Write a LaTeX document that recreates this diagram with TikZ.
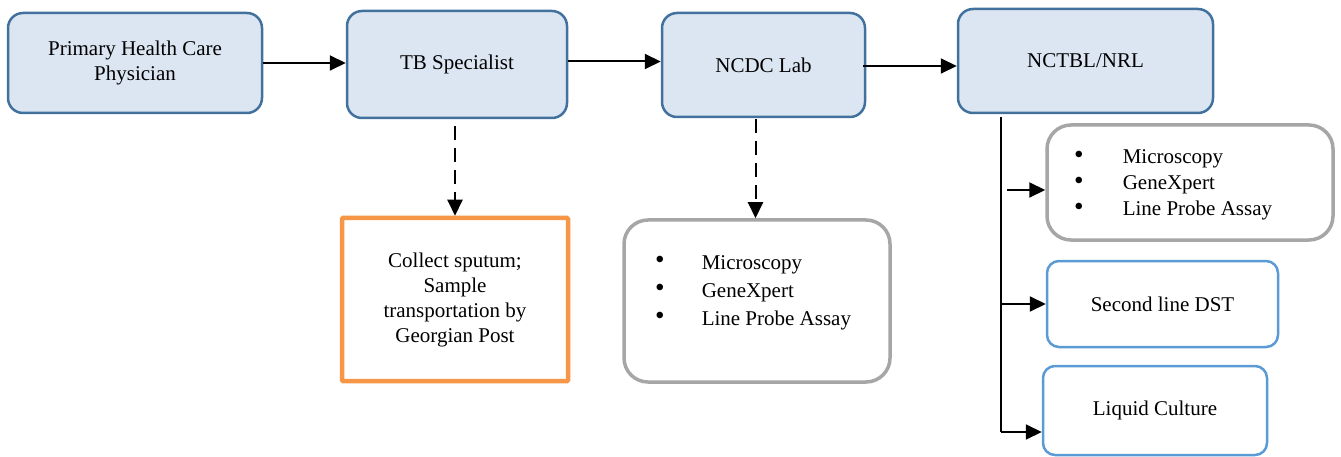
\documentclass[tikz,border=0pt]{standalone}
\usepackage{fontspec}
\setmainfont{Liberation Serif}
\newfontfamily\tnrfont{Liberation Serif}
\usetikzlibrary{arrows.meta,calc}
\definecolor{mainfill}{HTML}{DCE6F2}
\definecolor{mainline}{HTML}{41719C}
\definecolor{orangeline}{HTML}{F79646}
\definecolor{grayline}{HTML}{A6A6A6}
\definecolor{blueline}{HTML}{5B9BD5}
\newcommand{\bigbul}{\raisebox{0.1ex}{\scalebox{1.3}{\textbullet}}}
\begin{document}
\begin{tikzpicture}[x=1pt,y=-1pt,
  font=\tnrfont\fontsize{21}{25}\selectfont,
  mainbox/.style={draw=mainline, fill=mainfill, line width=2.5pt, rounded corners=15pt, align=center, inner sep=0pt},
  orangebox/.style={draw=orangeline, line width=4.5pt, rounded corners=1pt, align=center, inner sep=0pt},
  graybox/.style={draw=grayline, line width=3.5pt, rounded corners=24pt, inner sep=0pt},
  bluebox/.style={draw=blueline, line width=2.5pt, rounded corners=12pt, inner sep=0pt},
  listtext/.style={anchor=west, inner sep=0pt},
  arr/.style={line width=2pt, -{Triangle[length=16pt,width=15pt]}},
  dasharr/.style={arr, dash pattern=on 14pt off 8pt}]
\useasboundingbox (0,0) rectangle (1341,457);
\node[mainbox, minimum width=254pt, minimum height=100pt] (pc) at (135,63) {Primary Health Care\\Physician};
\node[mainbox, minimum width=220pt, minimum height=107pt] (tb) at (457,64.5) {TB Specialist};
\node[mainbox, minimum width=203pt, minimum height=104pt] (nc) at (763.5,65) {NCDC Lab};
\node[mainbox, minimum width=255pt, minimum height=104pt] (nt) at (1085.5,61) {NCTBL/NRL};
\node[orangebox, minimum width=226pt, minimum height=163pt] (ob) at (455,299.5) {Collect sputum;\\Sample\\transportation by\\Georgian Post};
\node[graybox, minimum width=266pt, minimum height=162pt] (g1) at (757,301) {};
\node[listtext] (g1t) at (655,292) {\begin{tabular}{@{}l@{\hspace{37pt}}l@{}}\bigbul & Microscopy\\[3pt] \bigbul & GeneXpert\\[3pt] \bigbul & Line Probe Assay\end{tabular}};
\node[graybox, minimum width=286pt, minimum height=115pt] (g2) at (1190,182.5) {};
\node[listtext] (g2t) at (1074,185) {\begin{tabular}{@{}l@{\hspace{39pt}}l@{}}\bigbul & Microscopy\\[1pt] \bigbul & GeneXpert\\[1pt] \bigbul & Line Probe Assay\end{tabular}};
\node[bluebox, minimum width=231pt, minimum height=86pt] (dst) at (1162.5,304) {Second line DST};
\node[bluebox, minimum width=224pt, minimum height=89pt] (lc) at (1155,410.5) {Liquid Culture};
% main flow
\draw[arr] (pc.east) -- (pc.east -| tb.west);
\draw[arr] ($(tb.east)+(0,-3)$) -- ($(tb.east -| nc.west)+(0,-3)$);
\draw[arr] ($(nc.east)+(-3,1)$) -- ($(nc.east -| nt.west)+(0,1)$);
% dashed
\coordinate (d1) at ($(tb.south)+(-2,7)$);
\draw[dasharr] (d1) -- (d1 |- ob.north);
\coordinate (d2) at ($(nc.south)+(-8,1)$);
\draw[dasharr] (d2) -- (d2 |- g1.north);
% trunk
\coordinate (tr0) at (1001,117);
\coordinate (b1) at (1007,190);
\coordinate (b2) at (1001,304);
\coordinate (b3) at (1001,432);
\draw[line width=2pt] (tr0) -- (b3);
\draw[arr] (b1) -- (b1 -| g2.west);
\draw[arr] (b2) -- (b2 -| dst.west);
\draw[arr] (b3) -- (b3 -| lc.west);
\end{tikzpicture}
\end{document}
